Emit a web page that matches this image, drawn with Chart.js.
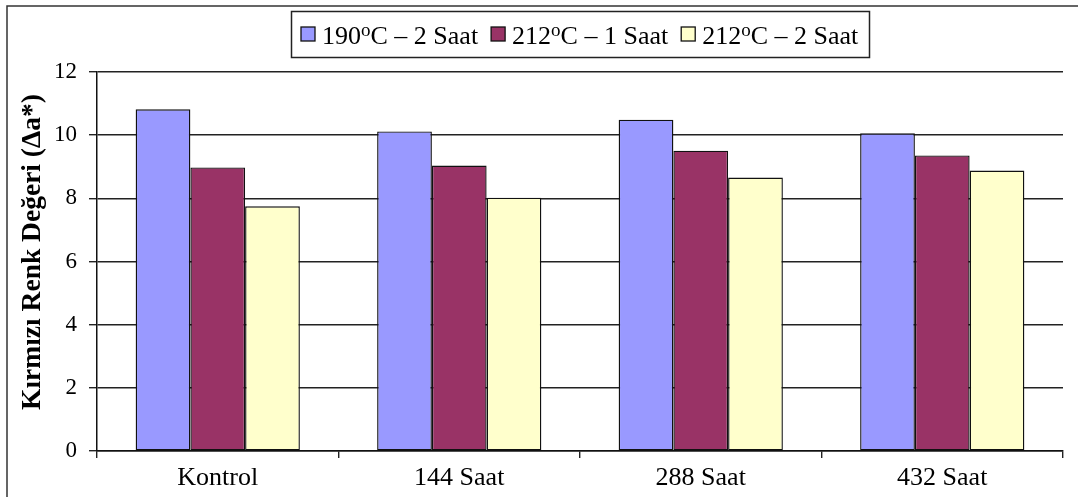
<!DOCTYPE html>
<html>
<head>
<meta charset="utf-8">
<script src="https://cdn.jsdelivr.net/npm/chart.js@4/dist/chart.umd.min.js"></script>
<style>
  html, body { margin: 0; padding: 0; background: #ffffff; }
  #wrap { width: 1078px; height: 497px; }
</style>
</head>
<body>
<div id="wrap"><canvas id="chart" width="1078" height="497"></canvas></div>
<script>
// Red colour value (Δa*) per exposure time, for three heat treatments
const categories = ['Kontrol', '144 Saat', '288 Saat', '432 Saat'];
const seriesLabels = ['190ºC – 2 Saat', '212ºC – 1 Saat', '212ºC – 2 Saat'];
const series190h2 = [10.82, 10.12, 10.49, 10.06];
const series212h1 = [8.98, 9.04, 9.51, 9.36];
const series212h2 = [7.75, 8.02, 8.66, 8.88];
const yTicks = [0, 2, 4, 6, 8, 10, 12];
const yTitle = 'Kırmızı Renk Değeri (Δa*)';

const barColors = ['#9999FF', '#993366', '#FFFFCC'];
const SERIF = "'Liberation Serif', 'Times New Roman', serif";

// Page frame and white background
const framePlugin = {
  id: 'frame',
  beforeDraw(chart) {
    const ctx = chart.ctx;
    ctx.save();
    ctx.fillStyle = '#ffffff';
    ctx.fillRect(0, 0, chart.width, chart.height);
    ctx.strokeStyle = '#333333';
    ctx.lineWidth = 1.5;
    ctx.beginPath();
    ctx.moveTo(7, chart.height);
    ctx.lineTo(7, 6);
    ctx.lineTo(chart.width, 6);
    ctx.stroke();
    ctx.restore();
  }
};

// Rotated y-axis title, drawn beside the value scale
const yTitlePlugin = {
  id: 'yTitle',
  afterDraw(chart) {
    const ctx = chart.ctx;
    ctx.save();
    ctx.font = `bold 27.5px ${SERIF}`;
    ctx.fillStyle = '#000000';
    ctx.textAlign = 'center';
    ctx.textBaseline = 'alphabetic';
    ctx.translate(40, 252);
    ctx.rotate(-Math.PI / 2);
    ctx.fillText(yTitle, 0, 0);
    ctx.restore();
  }
};

// Boxed legend with raised degree "o"
function labelWidth(ctx, text, size) {
  const parts = text.split('º');
  ctx.font = `${size}px ${SERIF}`;
  let w = ctx.measureText(parts[0]).width;
  if (parts.length > 1) {
    ctx.font = `${Math.round(size * 0.72)}px ${SERIF}`;
    w += ctx.measureText('o').width;
    ctx.font = `${size}px ${SERIF}`;
    w += ctx.measureText(parts[1]).width;
  }
  return w;
}
function drawLabel(ctx, text, x, y, size) {
  const parts = text.split('º');
  ctx.font = `${size}px ${SERIF}`;
  ctx.fillText(parts[0], x, y);
  x += ctx.measureText(parts[0]).width;
  if (parts.length > 1) {
    ctx.font = `${Math.round(size * 0.72)}px ${SERIF}`;
    ctx.fillText('o', x, y - size * 0.3);
    x += ctx.measureText('o').width;
    ctx.font = `${size}px ${SERIF}`;
    ctx.fillText(parts[1], x, y);
  }
}
const legendPlugin = {
  id: 'boxLegend',
  afterDraw(chart) {
    const ctx = chart.ctx;
    const size = 26, box = 14, gapText = 7, gapItem = 13, pad = 10;
    const top = 11, bottom = 57;
    ctx.save();
    ctx.textBaseline = 'alphabetic';
    const items = chart.data.datasets.map(ds => ({
      text: ds.label, color: ds.backgroundColor, w: labelWidth(ctx, ds.label, size)
    }));
    let total = 0;
    items.forEach((it, i) => { total += box + gapText + it.w + (i < items.length - 1 ? gapItem : 0); });
    const area = chart.chartArea;
    const cx = (area.left + area.right) / 2;
    const left = Math.round(cx - total / 2 - pad);
    const right = Math.round(cx + total / 2 + pad);
    ctx.fillStyle = '#ffffff';
    ctx.fillRect(left, top, right - left, bottom - top);
    ctx.strokeStyle = '#222222';
    ctx.lineWidth = 1.5;
    ctx.strokeRect(left + 0.5, top + 0.5, right - left, bottom - top);
    let x = left + pad;
    const mid = (top + bottom) / 2;
    items.forEach(it => {
      ctx.fillStyle = it.color;
      ctx.fillRect(x, mid - box / 2, box, box);
      ctx.lineWidth = 1.3;
      ctx.strokeStyle = '#111111';
      ctx.strokeRect(x, mid - box / 2, box, box);
      ctx.fillStyle = '#000000';
      drawLabel(ctx, it.text, x + box + gapText, mid + 10, size);
      x += box + gapText + it.w + gapItem;
    });
    ctx.restore();
  }
};

const seriesValues = [series190h2, series212h1, series212h2];

new Chart(document.getElementById('chart'), {
  type: 'bar',
  data: {
    labels: categories,
    datasets: seriesValues.map((vals, i) => ({
      label: seriesLabels[i],
      data: vals,
      backgroundColor: barColors[i],
      borderColor: '#111111',
      borderWidth: 1.4,
      borderSkipped: false,
      categoryPercentage: 0.68,
      barPercentage: 1.0
    }))
  },
  options: {
    responsive: false,
    animation: false,
    devicePixelRatio: 1,
    layout: { padding: { top: 72, right: 15, bottom: 0, left: 0 } },
    plugins: {
      legend: { display: false },
      title: { display: false },
      tooltip: { enabled: false }
    },
    scales: {
      x: {
        offset: true,
        grid: {
          display: true,
          offset: true,
          drawOnChartArea: false,
          drawTicks: true,
          tickLength: 7,
          color: '#222222',
          lineWidth: 1.4
        },
        border: { display: true, color: '#111111', width: 1.5 },
        ticks: {
          color: '#000000',
          font: { family: SERIF, size: 26 },
          padding: 5,
          maxRotation: 0
        },
        afterFit(scale) { scale.height = 46; }
      },
      y: {
        min: 0,
        max: 12,
        afterBuildTicks(scale) { scale.ticks = yTicks.map(v => ({ value: v })); },
        grid: {
          color: '#222222',
          lineWidth: 1.4,
          drawTicks: true,
          tickLength: 8
        },
        border: { display: true, color: '#111111', width: 1.5 },
        ticks: {
          color: '#000000',
          font: { family: SERIF, size: 23 },
          padding: 12
        },
        afterFit(scale) { scale.width = 97; }
      }
    }
  },
  plugins: [framePlugin, yTitlePlugin, legendPlugin]
});
</script>
</body>
</html>
